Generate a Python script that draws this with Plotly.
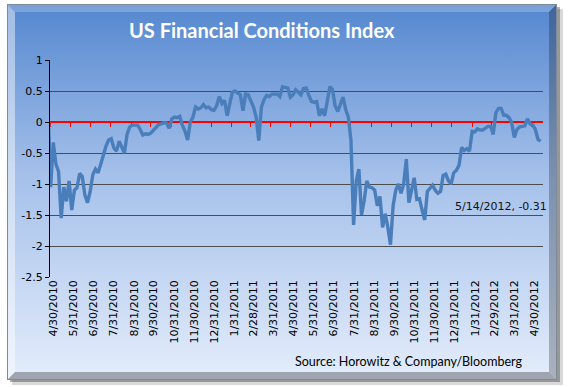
import base64
import pandas as pd
import plotly.graph_objects as go

# ---------------- data ----------------
# index values sampled every 4 days, ending 5/14/2012
fci_values = [
    0.25, -1.05, -0.33, -0.68, -0.80, -1.55, -1.05, -1.28, -0.95, -1.42,
    -1.10, -1.06, -0.83, -0.88, -1.18, -1.30, -1.12, -0.85, -0.76, -0.82,
    -0.68, -0.52, -0.39, -0.29, -0.27, -0.42, -0.47, -0.31, -0.40, -0.50,
    -0.20, -0.08, -0.05, -0.05, -0.05, -0.12, -0.21, -0.19, -0.20, -0.18,
    -0.13, -0.08, -0.04, -0.03, -0.01, -0.02, -0.10, 0.05, 0.08, 0.07,
    0.09, -0.05, -0.15, -0.29, 0.00, 0.08, 0.24, 0.21, 0.23, 0.28,
    0.23, 0.24, 0.20, 0.19, 0.26, 0.41, 0.30, 0.35, 0.10, 0.30,
    0.48, 0.50, 0.47, 0.44, 0.18, 0.45, 0.44, 0.34, 0.24, 0.08,
    -0.30, 0.24, 0.36, 0.43, 0.41, 0.45, 0.45, 0.45, 0.41, 0.57,
    0.56, 0.55, 0.40, 0.44, 0.52, 0.47, 0.44, 0.54, 0.55, 0.43,
    0.33, 0.32, 0.33, 0.10, 0.21, 0.10, 0.37, 0.57, 0.52, 0.26,
    0.17, 0.28, 0.40, 0.20, 0.08, -0.30, -1.66, -0.95, -0.76, -1.50,
    -1.27, -0.95, -1.05, -1.06, -1.10, -1.35, -1.20, -1.70, -1.48, -1.70,
    -1.98, -1.35, -1.10, -1.00, -1.15, -1.00, -0.60, -1.30, -1.08, -0.90,
    -1.25, -1.24, -1.42, -1.58, -1.12, -1.06, -1.02, -1.10, -1.15, -1.12,
    -0.86, -0.84, -0.95, -1.00, -0.82, -0.78, -0.70, -0.41, -0.46, -0.43,
    -0.47, -0.15, -0.16, -0.11, -0.13, -0.13, -0.10, -0.07, -0.07, -0.20,
    0.15, 0.22, 0.22, 0.11, 0.11, 0.07, -0.01, -0.25, -0.12, -0.08,
    -0.07, -0.06, 0.05, -0.03, -0.05, -0.12, -0.28, -0.31,
]
last_date = "2012-05-14"
last_value_label = "5/14/2012, -0.31"

x_tick_dates = [
    "2010-04-30", "2010-05-31", "2010-06-30", "2010-07-31", "2010-08-31",
    "2010-09-30", "2010-10-31", "2010-11-30", "2010-12-31", "2011-01-31",
    "2011-02-28", "2011-03-31", "2011-04-30", "2011-05-31", "2011-06-30",
    "2011-07-31", "2011-08-31", "2011-09-30", "2011-10-31", "2011-11-30",
    "2011-12-31", "2012-01-31", "2012-02-29", "2012-03-31", "2012-04-30",
]
x_tick_text = [
    "4/30/2010", "5/31/2010", "6/30/2010", "7/31/2010", "8/31/2010",
    "9/30/2010", "10/31/2010", "11/30/2010", "12/31/2010", "1/31/2011",
    "2/28/2011", "3/31/2011", "4/30/2011", "5/31/2011", "6/30/2011",
    "7/31/2011", "8/31/2011", "9/30/2011", "10/31/2011", "11/30/2011",
    "12/31/2011", "1/31/2012", "2/29/2012", "3/31/2012", "4/30/2012",
]
y_tick_vals = [1, 0.5, 0, -0.5, -1, -1.5, -2, -2.5]
y_tick_text = ["1", "0.5", "0", "-0.5", "-1", "-1.5", "-2", "-2.5"]

title_text = "US Financial Conditions Index"
source_text = "Source: Horowitz & Company/Bloomberg"

# sample dates: every 4 days up to 5/10/2012, then the final 5/14/2012 print
dates = list(pd.date_range(end="2012-05-10", periods=len(fci_values) - 1, freq="4D"))
dates.append(pd.Timestamp(last_date))

# ---------------- geometry ----------------
W, H = 569, 387
L, R, T, B = 50, 26, 60, 110
PW, PH = W - L - R, H - T - B
Y_MIN, Y_MAX = -2.5, 1.0


def px(x):
    return (x - L) / PW


def py(y):
    return (T + PH - y) / PH


# ---------------- background frame as svg image ----------------
svg = """<svg xmlns="http://www.w3.org/2000/svg" width="569" height="387" viewBox="0 0 569 387">
<defs>
<linearGradient id="face" x1="0" y1="0" x2="0" y2="1">
<stop offset="0" stop-color="#5487cf"/>
<stop offset="0.45" stop-color="#a4c0ea"/>
<stop offset="1" stop-color="#e4edfb"/>
</linearGradient>
</defs>
<rect x="12" y="9" width="551" height="376" fill="#000" fill-opacity="0.15"/>
<rect x="10" y="7" width="550" height="375" fill="#000" fill-opacity="0.3"/>
<rect x="7" y="4" width="550" height="376" fill="url(#face)"/>
<polygon points="7,4 557,4 549,12 15,12" fill="#fff" fill-opacity="0.22"/>
<polygon points="7,4 15,12 15,372 7,380" fill="#fff" fill-opacity="0.45"/>
<polygon points="557,4 557,380 549,372 549,12" fill="#000" fill-opacity="0.25"/>
<polygon points="7,380 557,380 549,372 15,372" fill="#000" fill-opacity="0.3"/>
<rect x="7.5" y="4.5" width="549" height="375" fill="none" stroke="#7d8a9a" stroke-width="1"/>
</svg>"""
svg_uri = "data:image/svg+xml;base64," + base64.b64encode(svg.encode()).decode()

fig = go.Figure()

fig.add_trace(go.Scatter(
    x=dates, y=fci_values, mode="lines",
    line=dict(color="#4a7ebb", width=3.4),
    showlegend=False, hoverinfo="x+y",
))
# helper trace so the zero-line axis is drawn
fig.add_trace(go.Scatter(
    x=[dates[0]], y=[None], xaxis="x2", mode="lines",
    showlegend=False, hoverinfo="skip",
))

tick_font = dict(family="DejaVu Sans", size=11, color="#000000")

fig.update_layout(
    width=W, height=H, autosize=False,
    margin=dict(l=L, r=R, t=T, b=B, pad=0),
    paper_bgcolor="white", plot_bgcolor="rgba(0,0,0,0)",
    showlegend=False,
    xaxis=dict(
        type="date",
        range=["2010-04-30", "2012-05-17 14:00"],
        tickmode="array", tickvals=x_tick_dates, ticktext=x_tick_text,
        tickangle=-90, tickfont=tick_font, ticks="", showgrid=False,
        showline=False, zeroline=False, ticklabelshift=3,
    ),
    xaxis2=dict(
        type="date", overlaying="x", matches="x", anchor="free",
        position=(0 - Y_MIN) / (Y_MAX - Y_MIN), side="bottom",
        tickmode="array", tickvals=x_tick_dates,
        showticklabels=False, ticks="outside", ticklen=4, tickwidth=1,
        tickcolor="#ff0000", showline=True, linecolor="#ff0000",
        linewidth=1.5, showgrid=False, zeroline=False, layer="below traces",
    ),
    yaxis=dict(
        range=[Y_MIN, Y_MAX], tickmode="array",
        tickvals=y_tick_vals, ticktext=y_tick_text, tickfont=tick_font,
        showgrid=True, gridcolor="#4d4d4d", gridwidth=1,
        showline=True, linecolor="#000000", linewidth=1.2,
        ticks="outside", ticklen=4, tickcolor="#000000",
        zeroline=False,
    ),
    images=[dict(
        source=svg_uri, xref="paper", yref="paper",
        x=px(0), y=py(0), sizex=W / PW, sizey=H / PH,
        xanchor="left", yanchor="top", sizing="stretch", layer="below",
    )],
    annotations=[
        dict(text=title_text, xref="paper", yref="paper",
             x=px(262), y=py(30), xanchor="center", yanchor="middle",
             showarrow=False,
             font=dict(family="Lato", size=20, color="#ffffff", weight="bold")),
        dict(text=source_text, xref="paper", yref="paper",
             x=px(408), y=py(361), xanchor="center", yanchor="middle",
             showarrow=False,
             font=dict(family="Lato", size=12.5, color="#000000")),
        dict(text=last_value_label, x=last_date, y=fci_values[-1],
             xref="x", yref="y", xanchor="right", yanchor="middle",
             xshift=8, yshift=-65, showarrow=False,
             font=dict(family="DejaVu Sans", size=11, color="#111111")),
    ],
)

fig.write_html(
    "out.html",
    config={"displayModeBar": False},
    post_script="document.body.style.margin='0px';document.body.style.padding='0px';",
)
